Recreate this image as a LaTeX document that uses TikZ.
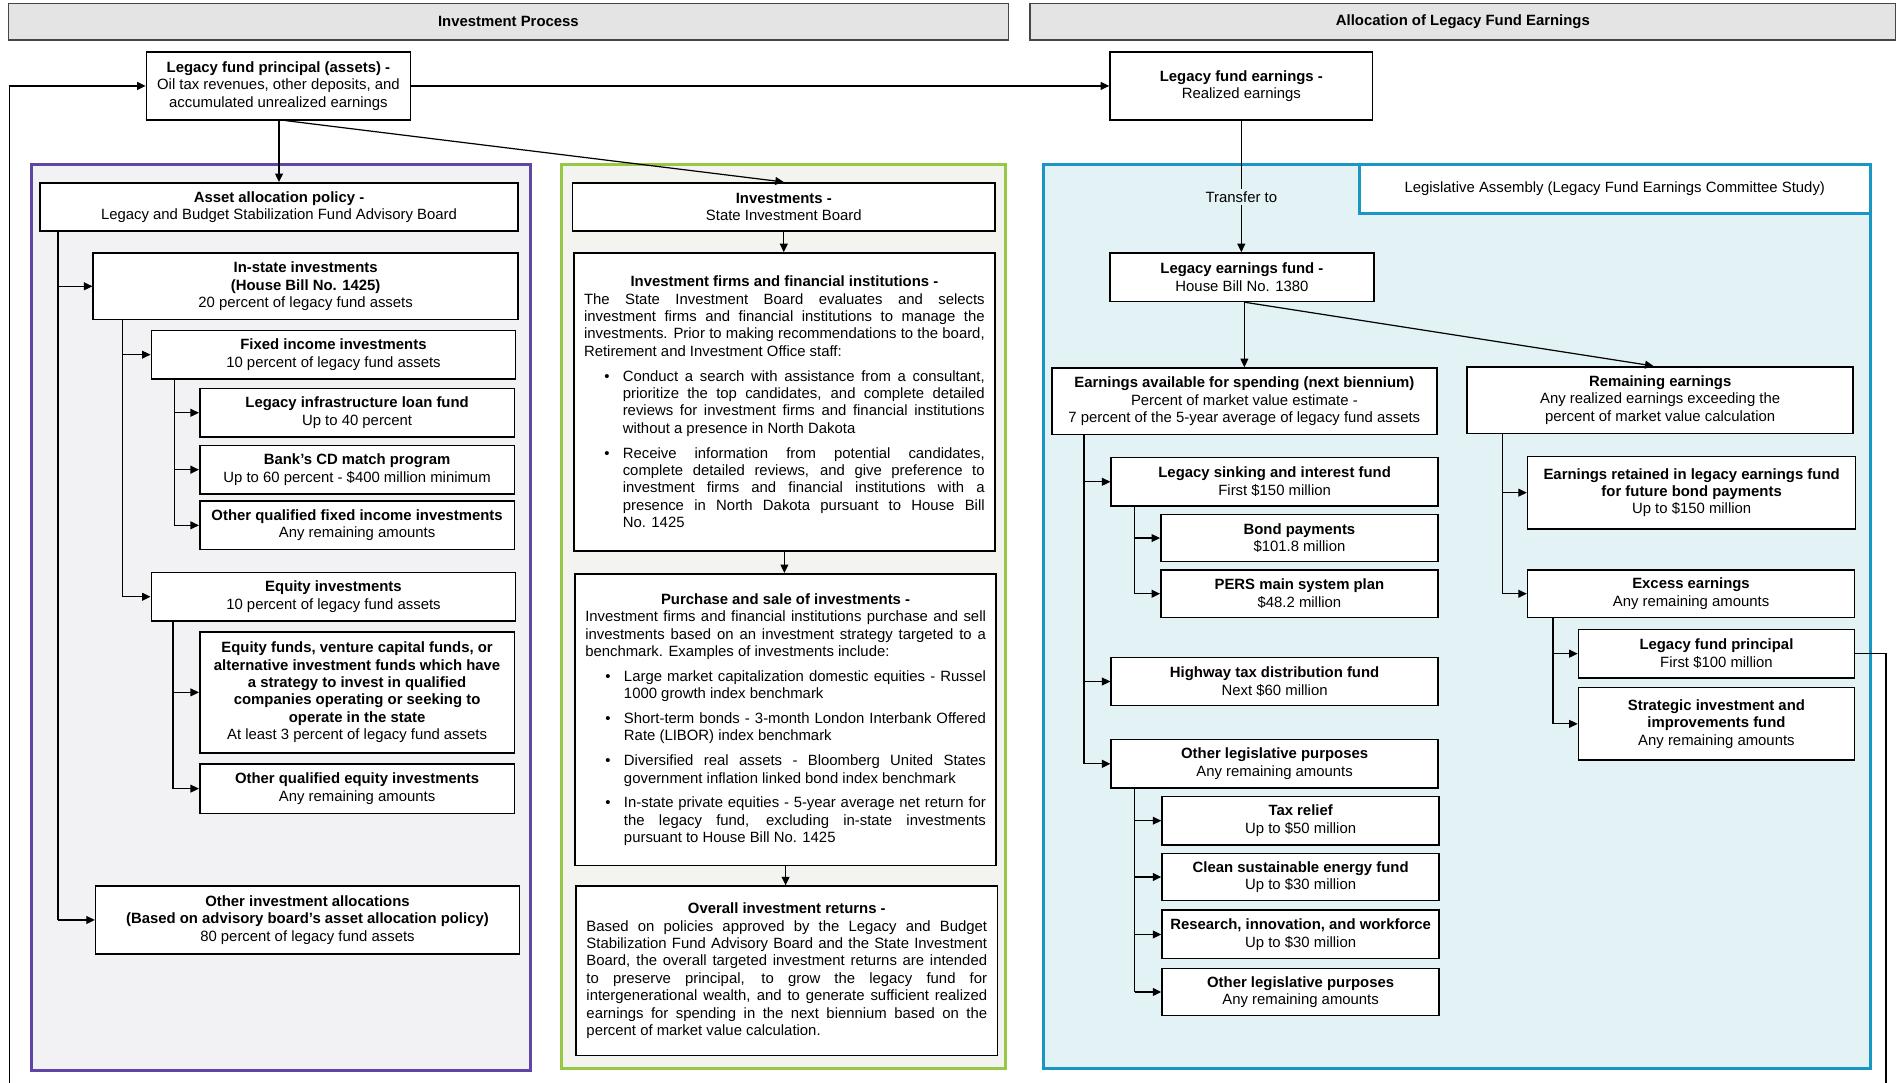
\documentclass[tikz,border=0pt]{standalone}
\usepackage{fontspec}
\setmainfont{Liberation Sans}
\usetikzlibrary{arrows.meta}

\definecolor{headfill}{RGB}{228,228,228}
\definecolor{headline}{RGB}{70,70,70}
\definecolor{purpleline}{RGB}{95,70,165}
\definecolor{purplefill}{RGB}{242,242,245}
\definecolor{greenline}{RGB}{150,200,70}
\definecolor{greenfill}{RGB}{243,244,239}
\definecolor{cyanline}{RGB}{25,150,195}
\definecolor{cyanfill}{RGB}{226,242,245}

\tikzset{
  box/.style={draw=black, line width=1.3pt, fill=white, align=center,
    inner sep=1pt, font=\fontsize{12.3}{14.4}\selectfont},
  headbar/.style={draw=headline, line width=1.2pt, fill=headfill,
    font=\fontsize{12.3}{14.4}\selectfont\bfseries},
  conn/.style={line width=1pt, -{Triangle[length=7pt,width=6.5pt]}},
  trunk/.style={line width=1pt},
  panel/.style={line width=2.5pt},
}

% box from its corners: name, x1, y1, x2, y2, text
\newcommand\bx[6]{\node[box, minimum width={#4-#2}, minimum height={#5-#3}]
  (#1) at ({(#2+#4)/2},{(#3+#5)/2}) {#6};}
% box holding a justified block of text
\newcommand\tbx[6]{\node[box, minimum width={#4-#2}, minimum height={#5-#3}]
  (#1) at ({(#2+#4)/2},{(#3+#5)/2}) {\begin{minipage}{331pt}#6\end{minipage}};}

\newenvironment{blist}{\begin{list}{\textbullet}{%
  \setlength\leftmargin{32pt}\setlength\labelwidth{5pt}%
  \setlength\labelsep{11pt}\setlength\topsep{6pt}%
  \setlength\partopsep{0pt}\setlength\parsep{0pt}\setlength\itemsep{6pt}}}%
  {\end{list}}
\newcommand\ttl[1]{{\centering\textbf{#1}\par}}

\begin{document}
\begin{tikzpicture}[x=1pt,y=-1pt]
\useasboundingbox (0,0) rectangle (1568,894);

% section headings
\node[headbar, minimum width=826, minimum height=30] (hl) at (420,18) {Investment Process};
\node[headbar, minimum width=715, minimum height=30] (hr) at (1208.5,18) {Allocation of Legacy Fund Earnings};

% panels
\draw[panel, draw=purpleline, fill=purplefill] (26,136) rectangle (438,884);
\draw[panel, draw=greenline, fill=greenfill] (464,136) rectangle (831,883);
\draw[panel, draw=cyanline, fill=cyanfill] (862,136) rectangle (1545,883);
\node[draw=cyanline, line width=2.5pt, fill=white, minimum width=422, minimum height=40,
  font=\fontsize{12.3}{14.4}\selectfont] (la) at (1334,156)
  {Legislative Assembly (Legacy Fund Earnings Committee Study)};

% top row
\bx{P}{121}{43}{339}{99}{\textbf{Legacy fund principal (assets) -}\\Oil tax revenues, other deposits, and\\accumulated unrealized earnings}
\bx{E}{917}{43}{1134}{99}{\textbf{Legacy fund earnings -}\\Realized earnings}

% asset allocation
\bx{AA}{33}{151}{428}{191}{\textbf{Asset allocation policy -}\\Legacy and Budget Stabilization Fund Advisory Board}
\bx{IS}{77}{209}{428}{264}{\textbf{In-state investments}\\\textbf{(House Bill No. 1425)}\\20 percent of legacy fund assets}
\bx{FI}{125}{273}{426}{313}{\textbf{Fixed income investments}\\10 percent of legacy fund assets}
\bx{LI}{165}{321}{425}{361}{\textbf{Legacy infrastructure loan fund}\\Up to 40 percent}
\bx{BC}{165}{368}{425}{408}{\textbf{Bank's CD match program}\\Up to 60 percent - \$400 million minimum}
\bx{OF}{165}{414}{425}{454}{\textbf{Other qualified fixed income investments}\\Any remaining amounts}
\bx{EI}{125}{473}{426}{513}{\textbf{Equity investments}\\10 percent of legacy fund assets}
\bx{EF}{165}{522}{425}{622}{\textbf{Equity funds, venture capital funds, or}\\\textbf{alternative investment funds which have}\\\textbf{a strategy to invest in qualified}\\\textbf{companies operating or seeking to}\\\textbf{operate in the state}\\At least 3 percent of legacy fund assets}
\bx{OE}{165}{631}{425}{672}{\textbf{Other qualified equity investments}\\Any remaining amounts}
\bx{OA}{79}{732}{429}{788}{\textbf{Other investment allocations}\\\textbf{(Based on advisory board's asset allocation policy)}\\80 percent of legacy fund assets}

% investments
\bx{INV}{473}{151}{822}{191}{\textbf{Investments -}\\State Investment Board}
\tbx{IF}{474}{209}{822}{455}{\ttl{Investment firms and financial institutions -}
The State Investment Board evaluates and selects\linebreak
investment firms and financial institutions to manage the\linebreak
investments. Prior to making recommendations to the board,\linebreak
Retirement and Investment Office staff:
\begin{blist}
\item Conduct a search with assistance from a consultant,\linebreak
prioritize the top candidates, and complete detailed\linebreak
reviews for investment firms and financial institutions\linebreak
without a presence in North Dakota
\item Receive information from potential candidates,\linebreak
complete detailed reviews, and give preference to\linebreak
investment firms and financial institutions with a\linebreak
presence in North Dakota pursuant to House Bill\linebreak
No. 1425
\end{blist}}
\tbx{PS}{475}{474}{823}{715}{\ttl{Purchase and sale of investments -}
Investment firms and financial institutions purchase and sell\linebreak
investments based on an investment strategy targeted to a\linebreak
benchmark. Examples of investments include:
\begin{blist}
\item Large market capitalization domestic equities - Russel\linebreak
1000 growth index benchmark
\item Short-term bonds - 3-month London Interbank Offered\linebreak
Rate (LIBOR) index benchmark
\item Diversified real assets - Bloomberg United States\linebreak
government inflation linked bond index benchmark
\item In-state private equities - 5-year average net return for\linebreak
the legacy fund, excluding in-state investments\linebreak
pursuant to House Bill No. 1425
\end{blist}}
\tbx{OR}{476}{732}{824}{872}{\ttl{Overall investment returns -}
Based on policies approved by the Legacy and Budget\linebreak
Stabilization Fund Advisory Board and the State Investment\linebreak
Board, the overall targeted investment returns are intended\linebreak
to preserve principal, to grow the legacy fund for\linebreak
intergenerational wealth, and to generate sufficient realized\linebreak
earnings for spending in the next biennium based on the\linebreak
percent of market value calculation.}

% allocation of earnings
\bx{LE}{917}{209}{1135}{249}{\textbf{Legacy earnings fund -}\\House Bill No. 1380}
\bx{EA}{869}{304}{1187}{359}{\textbf{Earnings available for spending (next biennium)}\\Percent of market value estimate -\\7 percent of the 5-year average of legacy fund assets}
\bx{LS}{918}{378}{1188}{418}{\textbf{Legacy sinking and interest fund}\\First \$150 million}
\bx{BP}{959}{425}{1188}{464}{\textbf{Bond payments}\\\$101.8 million}
\bx{PE}{959}{471}{1188}{510}{\textbf{PERS main system plan}\\\$48.2 million}
\bx{HW}{918}{543}{1188}{583}{\textbf{Highway tax distribution fund}\\Next \$60 million}
\bx{OL}{918}{611}{1188}{651}{\textbf{Other legislative purposes}\\Any remaining amounts}
\bx{TR}{960}{658}{1189}{698}{\textbf{Tax relief}\\Up to \$50 million}
\bx{CE}{960}{705}{1189}{744}{\textbf{Clean sustainable energy fund}\\Up to \$30 million}
\bx{RI}{960}{752}{1189}{792}{\textbf{Research, innovation, and workforce}\\Up to \$30 million}
\bx{OLB}{960}{800}{1189}{839}{\textbf{Other legislative purposes}\\Any remaining amounts}
\bx{RE}{1212}{303}{1531}{358}{\textbf{Remaining earnings}\\Any realized earnings exceeding the\\percent of market value calculation}
\bx{ER}{1262}{377}{1533}{437}{\textbf{Earnings retained in legacy earnings fund}\\\textbf{for future bond payments}\\Up to \$150 million}
\bx{EX}{1262}{471}{1532}{510}{\textbf{Excess earnings}\\Any remaining amounts}
\bx{LP}{1304}{520}{1532}{560}{\textbf{Legacy fund principal}\\First \$100 million}
\bx{SI}{1304}{568}{1532}{628}{\textbf{Strategic investment and}\\\textbf{improvements fund}\\Any remaining amounts}

% connectors: investment process
\draw[conn] (P.east) -- (E.west);
\draw[conn] (230.5,0 |- P.south) -- (230.5,0 |- AA.north);
\draw[conn] (236,0 |- P.south) -- (INV.north);
\draw[trunk] (48,0 |- AA.south) -- (48,0 |- OA.west);
\draw[conn] (48,0 |- IS.west) -- (IS.west);
\draw[conn] (48,0 |- OA.west) -- (OA.west);
\draw[trunk] (101,0 |- IS.south) -- (101,0 |- EI.west);
\draw[conn] (101,0 |- FI.west) -- (FI.west);
\draw[conn] (101,0 |- EI.west) -- (EI.west);
\draw[trunk] (144,0 |- FI.south) -- (144,0 |- OF.west);
\draw[conn] (144,0 |- LI.west) -- (LI.west);
\draw[conn] (144,0 |- BC.west) -- (BC.west);
\draw[conn] (144,0 |- OF.west) -- (OF.west);
\draw[trunk] (143,0 |- EI.south) -- (143,0 |- OE.west);
\draw[conn] (143,0 |- EF.west) -- (EF.west);
\draw[conn] (143,0 |- OE.west) -- (OE.west);
\draw[conn] (INV.south) -- (INV.south |- IF.north);
\draw[conn] (IF.south) -- (IF.south |- PS.north);
\draw[conn] (PS.south) -- (PS.south |- OR.north);

% connectors: allocation of earnings
\draw[conn] (E.south) -- node[pos=0.58, fill=cyanfill, inner sep=2pt,
  font=\fontsize{12.3}{14.4}\selectfont] (tr) {Transfer to} (E.south |- LE.north);
\draw[conn] (1028,0 |- LE.south) -- (1028,0 |- EA.north);
\draw[conn] (1028,0 |- LE.south) -- (1366,0 |- RE.north);
\draw[trunk] (895.5,0 |- EA.south) -- (895.5,0 |- OL.west);
\draw[conn] (895.5,0 |- LS.west) -- (LS.west);
\draw[conn] (895.5,0 |- HW.west) -- (HW.west);
\draw[conn] (895.5,0 |- OL.west) -- (OL.west);
\draw[trunk] (937.5,0 |- LS.south) -- (937.5,0 |- PE.west);
\draw[conn] (937.5,0 |- BP.west) -- (BP.west);
\draw[conn] (937.5,0 |- PE.west) -- (PE.west);
\draw[trunk] (937.5,0 |- OL.south) -- (937.5,0 |- OLB.west);
\draw[conn] (937.5,0 |- TR.west) -- (TR.west);
\draw[conn] (937.5,0 |- CE.west) -- (CE.west);
\draw[conn] (937.5,0 |- RI.west) -- (RI.west);
\draw[conn] (937.5,0 |- OLB.west) -- (OLB.west);
\draw[trunk] (1241,0 |- RE.south) -- (1241,0 |- EX.west);
\draw[conn] (1241,0 |- ER.west) -- (ER.west);
\draw[conn] (1241,0 |- EX.west) -- (EX.west);
\draw[trunk] (1283,0 |- EX.south) -- (1283,0 |- SI.west);
\draw[conn] (1283,0 |- LP.west) -- (LP.west);
\draw[conn] (1283,0 |- SI.west) -- (SI.west);

% principal returned to the legacy fund (loop runs below the page edge)
\draw[conn] (LP.east) -- (1558,0 |- LP.east) -- (1558,905) -- (8,905)
  -- (8,0 |- P.west) -- (P.west);
\end{tikzpicture}
\end{document}
